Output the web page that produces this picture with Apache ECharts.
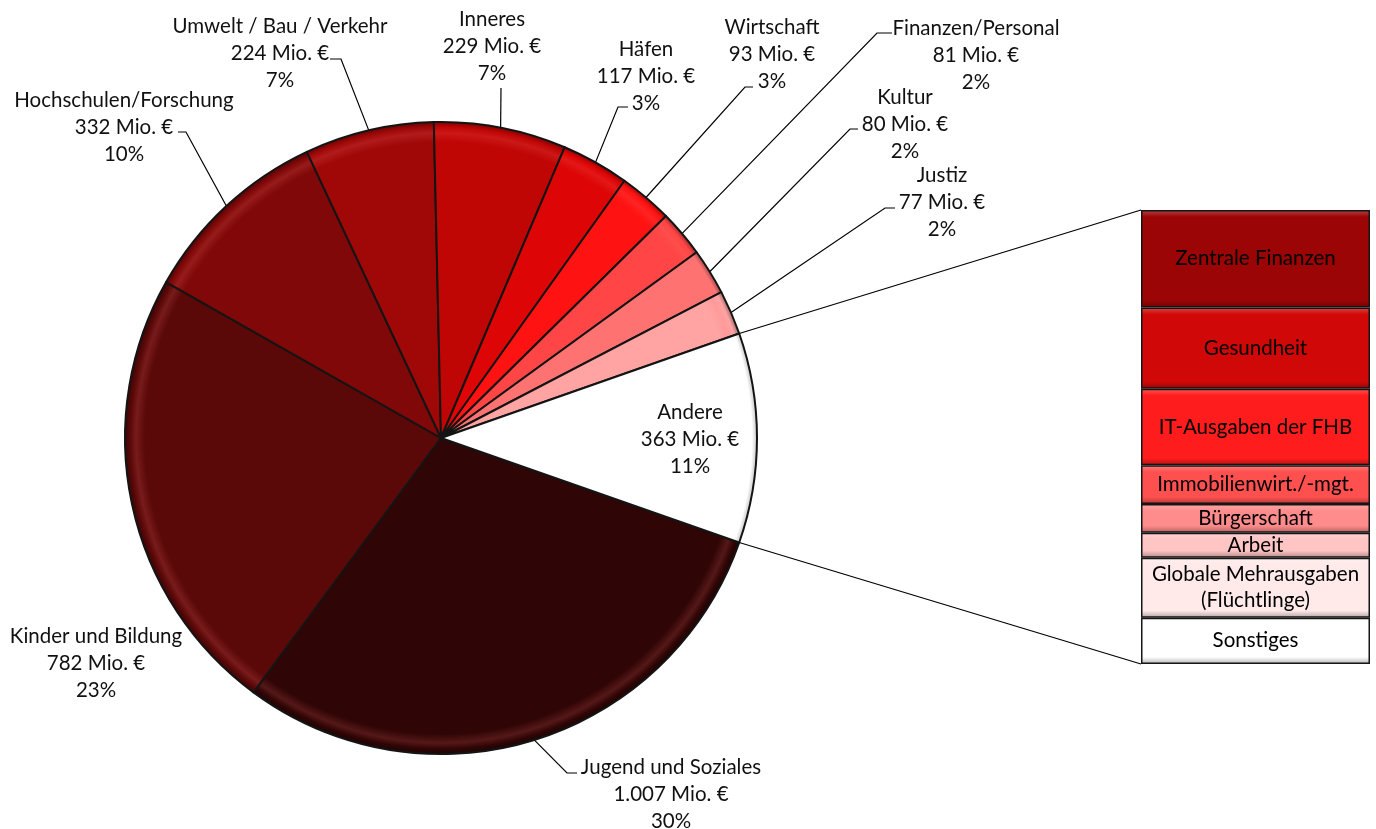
<!DOCTYPE html>
<html><head><meta charset="utf-8">
<script src="https://cdn.jsdelivr.net/npm/echarts@6/dist/echarts.min.js"></script>
<style>html,body{margin:0;padding:0;background:#fff}#c{width:1376px;height:829px}</style>
</head><body><div id="c"></div>
<script>
// ---- data ----
const pieCategories = ['Jugend und Soziales','Kinder und Bildung','Hochschulen/Forschung','Umwelt / Bau / Verkehr','Inneres','Häfen','Wirtschaft','Finanzen/Personal','Kultur','Justiz','Andere'];
const pieValues = [1007,782,332,224,229,117,93,81,80,77,363];
const barCategories = ['Zentrale Finanzen','Gesundheit','IT-Ausgaben der FHB','Immobilienwirt./-mgt.','Bürgerschaft','Arbeit','Globale Mehrausgaben\n(Flüchtlinge)','Sonstiges'];
const barValues = [78,65,61,31,23,20,48,37];

// ---- styles / layout ----
const pieColors = ['#300505','#5a0808','#800808','#a00808','#c00505','#dd0505','#ff1212','#ff4545','#ff7272','#ffa3a3','#ffffff'];
const barColors = ['#9c0505','#d00808','#ff1c1c','#ff5050','#ff8c8c','#ffc4c4','#ffe9e9','#ffffff'];
const PIE_CENTER = [441, 438], PIE_R = 316;
const BAR_LEFT = 1141, BAR_TOP = 210, BAR_W = 229, BAR_H = 454;
const FONT = 'Lato, "Open Sans", sans-serif';
const labelCenters = [[671,794],[96,663],[124,127],[280,53],[492,46],[646,76],[772,54],[976,55],[905,124],[942,202],[690,439]];
// [bend x (pie side), end x (text side), y]
const leaderTicks = [[567,577,773],null,[186,178,132],[341,330,59],[501,501,88],[618,628,107],[745,753,87],[877,892,33],[850,858,129],[885,895,208],null];

const pieTotal = pieValues.reduce((a,b)=>a+b,0);
const barTotal = barValues.reduce((a,b)=>a+b,0);
const otherIdx = pieValues.length - 1;
const otherDeg = pieValues[otherIdx] / pieTotal * 360;
const startAngle = -otherDeg / 2;

function fmtDE(v){ return String(v).replace(/\B(?=(\d{3})+(?!\d))/g, '.'); }
function mix(hex, target, t){
  const a = parseInt(hex.slice(1),16), b = parseInt(target.slice(1),16);
  const ch = (x,s)=> (x>>s)&255;
  const r = Math.round(ch(a,16)*(1-t)+ch(b,16)*t), g = Math.round(ch(a,8)*(1-t)+ch(b,8)*t), bl = Math.round(ch(a,0)*(1-t)+ch(b,0)*t);
  return 'rgb('+r+','+g+','+bl+')';
}
function pieFill(c){
  const R = PIE_R;
  const hi = c === '#ffffff' ? '#ffffff' : mix(c,'#ff7070',0.18);
  const lo = c === '#ffffff' ? mix(c,'#000000',0.22) : mix(c,'#000000',0.35);
  return {type:'radial', x:PIE_CENTER[0], y:PIE_CENTER[1], r:R, global:true, colorStops:[
    {offset:0, color:c}, {offset:(R-20)/R, color:c},
    {offset:(R-11)/R, color:hi},
    {offset:(R-5)/R, color:c}, {offset:1, color:lo}
  ]};
}
function barFill(c, h){
  const e = Math.min(0.3, 7/h);
  return {type:'linear', x:0, y:0, x2:0, y2:1, colorStops:[
    {offset:0, color:mix(c,'#ffffff',0.25)}, {offset:e, color:c},
    {offset:1-e, color:c}, {offset:1, color:mix(c,'#000000',0.3)}
  ]};
}

const chart = echarts.init(document.getElementById('c'), null, {renderer:'canvas'});

const pieData = pieCategories.map((n,i)=>{
  const d = {name:n, value:pieValues[i], itemStyle:{color:pieFill(pieColors[i])}};
  if (i === otherIdx) { d.label = {position:'inside'}; d.labelLine = {show:false}; }
  if (!leaderTicks[i]) { d.labelLine = {show:false}; }
  return d;
});

const barSeries = barCategories.map((n,i)=>({
  type:'bar', name:n, stack:'s', barWidth:'100%', xAxisIndex:0, yAxisIndex:0,
  data:[barValues[i]],
  itemStyle:{color:barFill(barColors[i], barValues[i]/barTotal*BAR_H), borderColor:'#151515', borderWidth:1.5},
  label:{show:true, position:'inside', formatter:n, color:'#000', fontFamily:FONT, fontSize:20.5, lineHeight:26},
  emphasis:{disabled:true}, silent:true
}));

function piePoint(deg){ const a = deg*Math.PI/180; return [PIE_CENTER[0] + PIE_R*Math.cos(a), PIE_CENTER[1] - PIE_R*Math.sin(a)]; }
const pLow = piePoint(startAngle), pHigh = piePoint(startAngle + otherDeg);

chart.setOption({
  backgroundColor:'#ffffff',
  animation:false,
  grid:{left:BAR_LEFT, top:BAR_TOP, width:BAR_W, height:BAR_H},
  xAxis:{type:'category', data:[''], show:false},
  yAxis:{type:'value', min:0, max:barTotal, inverse:true, show:false},
  graphic:[
    {type:'line', shape:{x1:pHigh[0], y1:pHigh[1], x2:BAR_LEFT, y2:BAR_TOP}, style:{stroke:'#000', lineWidth:1.2}, z:-1},
    {type:'line', shape:{x1:pLow[0], y1:pLow[1], x2:BAR_LEFT, y2:BAR_TOP+BAR_H}, style:{stroke:'#000', lineWidth:1.2}, z:-1}
  ],
  series:[
    {
      type:'pie', center:PIE_CENTER, radius:PIE_R, startAngle:startAngle, clockwise:true,
      avoidLabelOverlap:false, silent:true,
      itemStyle:{borderColor:'#141414', borderWidth:2},
      label:{show:true, position:'outside', color:'#111', fontFamily:FONT, fontSize:20.5, lineHeight:27, align:'center',
        formatter:(p)=> p.name + '\n' + fmtDE(p.value) + ' Mio. €\n' + Math.round(p.value/pieTotal*100) + '%'},
      labelLine:{show:true, lineStyle:{color:'#000', width:1.2}},
      labelLayout:(params)=>{
        const i = params.dataIndex;
        const c = labelCenters[i];
        const out = {x:c[0], y:c[1], align:'center', verticalAlign:'middle'};
        const t = leaderTicks[i];
        if (t && params.labelLinePoints) {
          const s = params.labelLinePoints[0];
          out.labelLinePoints = [[s[0], s[1]], [t[0], t[2]], [t[1], t[2]]];
        }
        return out;
      },
      data:pieData
    },
    ...barSeries
  ]
});
</script></body></html>
